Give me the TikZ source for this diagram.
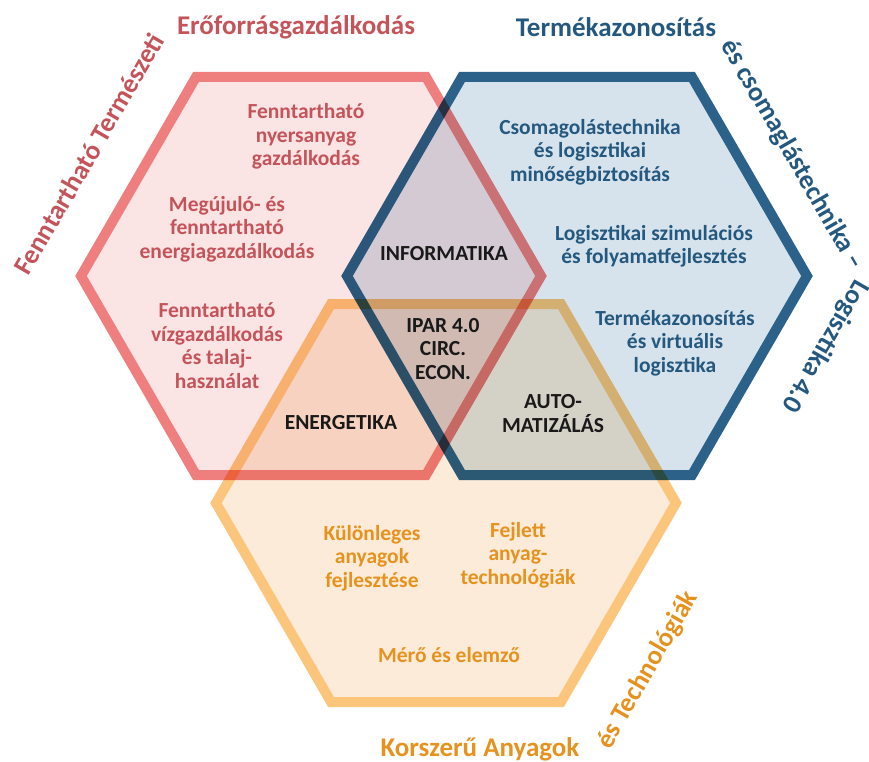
\documentclass[tikz,border=0pt]{standalone}
\usepackage{fontspec}
\setmainfont{Carlito}
\definecolor{redline}{HTML}{EF7F7F}
\definecolor{redfill}{HTML}{FBE4E4}
\definecolor{redtext}{HTML}{C4545A}
\definecolor{blueline}{HTML}{2C6189}
\definecolor{bluefill}{HTML}{D7E3EC}
\definecolor{bluetext}{HTML}{24587F}
\definecolor{orangeline}{HTML}{FBC57C}
\definecolor{orangefill}{HTML}{FCEBD8}
\definecolor{orangetext}{HTML}{E6921E}
\tikzset{
  hexbase/.style={line width=10pt, line join=miter},
  hexred/.style={hexbase, draw=redline, fill=redfill},
  hexblue/.style={hexbase, draw=blueline, fill=bluefill},
  hexorange/.style={hexbase, draw=orangeline, fill=orangefill},
  inner/.style={align=center, inner sep=0pt, font=\bfseries\fontsize{21.5}{23.5}\selectfont},
  redtxt/.style={inner, text=redtext},
  bluetxt/.style={inner, text=bluetext},
  orangetxt/.style={inner, text=orangetext},
  blacktxt/.style={inner, text=black!90},
  title/.style={inner sep=0pt, font=\bfseries\fontsize{27}{30}\selectfont},
}
\begin{document}
\begin{tikzpicture}[x=1pt,y=-1pt]
\useasboundingbox (0,0) rectangle (869,762);
\begin{scope}[blend mode=multiply]
\begin{scope}[transparency group]
\draw[hexred] (311,276) ++(-230,0) -- ++(115,-199) -- ++(230,0) -- ++(115,199) -- ++(-115,199) -- ++(-230,0) -- cycle;
\end{scope}
\begin{scope}[transparency group]
\draw[hexblue] (577,276) ++(-230,0) -- ++(115,-199) -- ++(230,0) -- ++(115,199) -- ++(-115,199) -- ++(-230,0) -- cycle;
\end{scope}
\begin{scope}[transparency group]
\draw[hexorange] (446,503) ++(-230,0) -- ++(115,-199) -- ++(230,0) -- ++(115,199) -- ++(-115,199) -- ++(-230,0) -- cycle;
\end{scope}
\end{scope}
% red texts
\node[redtxt] (r1) at (306,136.5) {Fenntartható\\nyersanyag\\gazdálkodás};
\node[redtxt] (r2) at (227,229) {Megújuló- és\\fenntartható\\energiagazdálkodás};
\node[redtxt] (r3) at (217,345.5) {Fenntartható\\vízgazdálkodás\\és talaj-\\használat};
% blue texts
\node[bluetxt] (b1) at (590,152) {Csomagolástechnika\\és logisztikai\\minőségbiztosítás};
\node[bluetxt] (b2) at (654,246.5) {Logisztikai szimulációs\\és folyamatfejlesztés};
\node[bluetxt] (b3) at (675,343) {Termékazonosítás\\és virtuális\\logisztika};
% orange texts
\node[orangetxt] (o1) at (372,558) {Különleges\\anyagok\\fejlesztése};
\node[orangetxt] (o2) at (518,555) {Fejlett\\anyag-\\technológiák};
\node[orangetxt] (o3) at (449,655) {Mérő és elemző};
% overlaps
\node[blacktxt] (inf) at (444,254) {INFORMATIKA};
\node[blacktxt] (ipar) at (443,349) {IPAR 4.0\\CIRC.\\ECON.};
\node[blacktxt] (ener) at (341,423) {ENERGETIKA};
\node[blacktxt] (auto) at (553,413.5) {AUTO-\\MATIZÁLÁS};
% titles
\node[title, text=redtext] (t1) at (296,27) {Erőforrásgazdálkodás};
\node[title, text=redtext, rotate=60] (t2) at (89,154) {Fenntartható Természeti};
\node[title, text=bluetext] (t3) at (616,27) {Termékazonosítás};
\node[title, text=bluetext, rotate=-60] (t4) at (792,155) {és csomaglástechnika –};
\node[title, text=bluetext, rotate=-120] (t5) at (825,346) {Logisztika 4.0};
\node[title, text=orangetext] (t6) at (480,749) {Korszerű Anyagok};
\node[title, text=orangetext, rotate=60] (t7) at (648,670) {és Technológiák};
\end{tikzpicture}
\end{document}
